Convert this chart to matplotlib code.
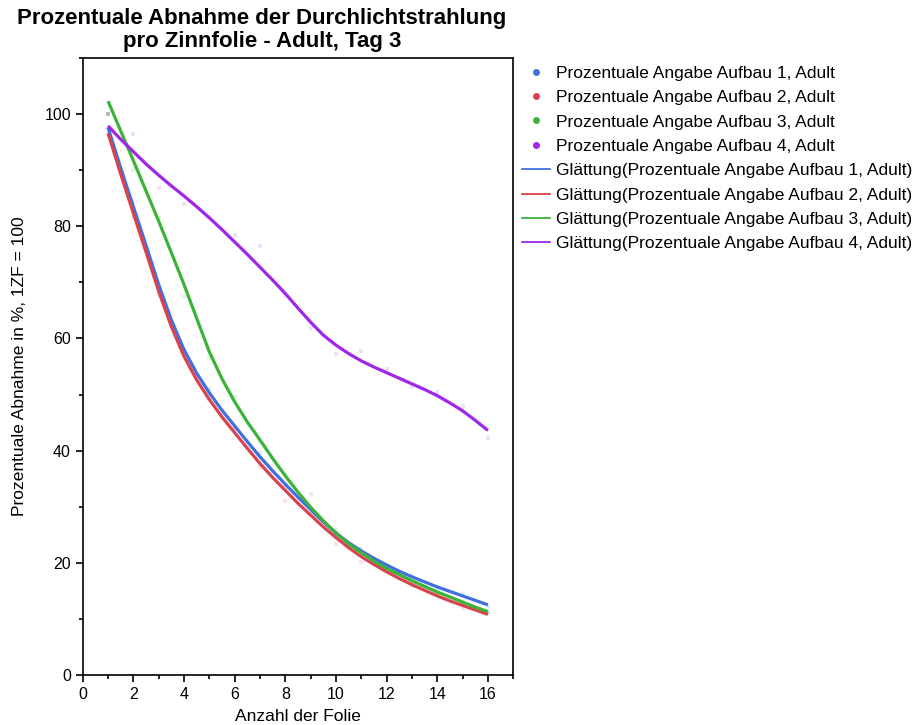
import matplotlib.pyplot as plt
from matplotlib.lines import Line2D
from matplotlib.ticker import MultipleLocator

plt.rcParams['font.family'] = ['Liberation Sans', 'DejaVu Sans']

# measured points (faint in the original)
x_pts = [1, 2, 3, 4, 5, 6, 7, 8, 9, 10, 11, 12, 13, 14, 15, 16]
pts1 = [100, 84.5, 69.0, 57.5, 51.0, 44.0, 39.5, 33.5, 29.8, 25.0, 22.5, 19.5, 17.8, 15.5, 14.5, 12.2]
pts2 = [100, 81.5, 67.7, 58.0, 49.2, 43.8, 37.0, 31.1, 28.9, 23.3, 20.2, 18.6, 15.8, 14.2, 12.0, 11.0]
pts3 = [100, 90.0, 81.5, 67.4, 56.6, 49.5, 41.5, 35.8, 32.2, 25.8, 21.9, 19.2, 16.5, 14.6, 13.2, 11.3]
pts4 = [100, 96.5, 86.9, 84.0, 81.7, 78.5, 76.5, 67.7, 61.9, 57.2, 57.8, 54.5, 51.3, 50.4, 47.9, 42.2]

# smoothed curves
x_fit = [1, 1.5, 2, 2.5, 3, 3.5, 4, 4.5, 5, 5.5, 6, 6.5, 7, 7.5, 8, 8.5, 9, 9.5, 10, 10.5,
         11, 11.5, 12, 12.5, 13, 13.5, 14, 14.5, 15, 15.5, 16]
fit1 = [97.6, 90.4, 83.5, 76.6, 69.6, 63.3, 58.0, 53.8, 50.3, 47.2, 44.4, 41.6, 38.9, 36.4, 34.0, 31.7,
        29.5, 27.3, 25.3, 23.6, 22.1, 20.8, 19.6, 18.5, 17.5, 16.6, 15.7, 14.9, 14.1, 13.3, 12.5]
fit2 = [96.6, 89.3, 82.3, 75.4, 68.4, 62.1, 56.8, 52.6, 49.1, 46.0, 43.2, 40.4, 37.7, 35.2, 32.9, 30.6,
        28.5, 26.4, 24.5, 22.7, 21.1, 19.7, 18.4, 17.2, 16.1, 15.1, 14.1, 13.2, 12.4, 11.6, 10.8]
fit3 = [102.3, 97.0, 91.7, 86.3, 80.9, 75.3, 69.6, 63.6, 57.6, 52.8, 48.7, 45.1, 41.9, 38.6, 35.5, 32.6,
        29.9, 27.5, 25.3, 23.4, 21.8, 20.3, 19.0, 17.9, 16.8, 15.8, 14.8, 13.9, 13.0, 12.1, 11.3]
fit4 = [97.9, 95.5, 93.3, 91.1, 89.1, 87.2, 85.4, 83.5, 81.5, 79.4, 77.2, 75.0, 72.7, 70.4, 68.0, 65.4,
        62.9, 60.6, 58.8, 57.3, 56.0, 54.9, 53.9, 52.9, 51.9, 50.9, 49.8, 48.5, 47.1, 45.4, 43.6]

colors = ['#3F6FE0', '#D9434E', '#3BB33B', '#A026E8']
names = ['Prozentuale Angabe Aufbau %d, Adult' % i for i in range(1, 5)]

fig = plt.figure(figsize=(9.16, 7.25), dpi=100)
ax = fig.add_axes([0.0903, 0.069, 0.470, 0.851])

for pts, c in zip([pts1, pts2, pts3, pts4], colors):
    ax.plot(x_pts, pts, 's', color=c, alpha=0.15, markersize=2.2, markeredgewidth=0)

for fit, c in zip([fit1, fit2, fit3, fit4], colors):
    ax.plot(x_fit, fit, '-', color=c, linewidth=2.3, solid_capstyle='butt')

ax.set_xlim(0, 17)
ax.set_ylim(0, 110)
ax.xaxis.set_major_locator(MultipleLocator(2))
ax.xaxis.set_minor_locator(MultipleLocator(1))
ax.yaxis.set_major_locator(MultipleLocator(20))
ax.yaxis.set_minor_locator(MultipleLocator(10))
ax.tick_params(which='both', direction='out', width=1.2, labelsize=11.5)
ax.tick_params(which='major', length=5)
ax.tick_params(which='minor', length=3)
for s in ax.spines.values():
    s.set_linewidth(1.2)

ax.set_xlabel('Anzahl der Folie', fontsize=12.5, labelpad=5)
ax.set_ylabel('Prozentuale Abnahme in %, 1ZF = 100', fontsize=12.5)
ax.yaxis.set_label_coords(-0.13, 0.5)

fig.text(0.286, 0.989, 'Prozentuale Abnahme der Durchlichtstrahlung\npro Zinnfolie - Adult, Tag 3',
         ha='center', va='top', fontsize=16, fontweight='bold', linespacing=1.12)

handles = [Line2D([], [], linestyle='none', marker='o', markersize=4, color=c) for c in colors]
handles += [Line2D([], [], color=c, linewidth=1.3) for c in colors]
labels = names + ['Glättung(%s)' % n for n in names]
fig.legend(handles, labels, loc='upper left', bbox_to_anchor=(0.562, 0.919), frameon=False,
           fontsize=12.5, handlelength=1.6, handletextpad=0.35, labelspacing=0.53, borderaxespad=0)

fig.savefig('out.png', dpi=100)
